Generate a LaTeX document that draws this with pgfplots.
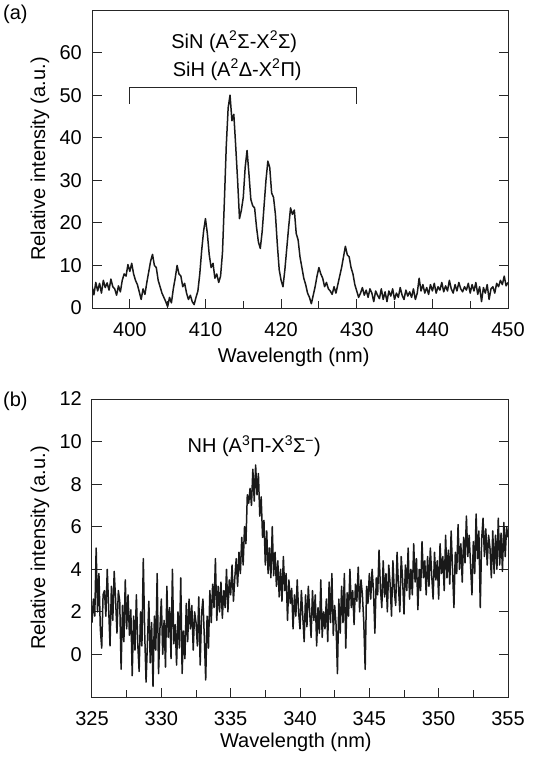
\documentclass[border=0pt]{standalone}
\usepackage{fontspec}
\setmainfont{Liberation Sans}
\usepackage{pgfplots}
\pgfplotsset{compat=1.18}

\pgfplotsset{
  spec/.style={
    scale only axis,
    width=416pt, height=298pt,
    axis line style={line width=1pt, black!85},
    xtick pos=bottom, ytick pos=both,
    tick align=inside,
    tick style={black!85, line width=1pt},
    major tick length=9.5pt, minor tick length=7pt,
    /pgf/number format/assume math mode=true,
    yticklabel style={anchor=east, inner sep=0pt, xshift=-10pt},
    xticklabel style={anchor=north, inner sep=0pt, yshift=-14pt},
    ylabel={Relative intensity (a.u.)},
    xlabel={Wavelength (nm)},
    ylabel style={at={(axis description cs:-0.125,0.5)}, anchor=center},
    clip=true,
  },
  specline/.style={black!90, line width=1.5pt, line join=round},
}

\begin{document}
\begin{tikzpicture}[font=\fontsize{20pt}{24pt}\selectfont]
\useasboundingbox (0,0) rectangle (534pt,-757pt);
\node[anchor=north west, inner sep=0pt] at (3pt,-5pt) {(a)};
\node[anchor=north west, inner sep=0pt] at (3pt,-392pt) {(b)};

% ---------- (a) SiN / SiH ----------
\begin{axis}[spec,
  at={(92pt,-308pt)}, anchor=south west,
  xmin=395, xmax=450, ymin=0, ymax=70,
  xtick={400,410,...,450}, minor xtick={405,415,...,445},
  ytick={0,10,...,60},
  xlabel style={at={(axis description cs:0.485,-0.182)}, anchor=base},
]
\addplot[specline] coordinates {
(395.00,5.2) (395.25,3.1) (395.50,6.0) (395.75,4.0) (396.00,5.8) (396.25,3.5)
(396.50,6.5) (396.75,4.8) (397.00,5.9) (397.25,4.2) (397.50,6.8) (397.75,5.0)
(398.00,4.5) (398.25,3.0) (398.50,5.2) (398.75,3.8) (399.00,6.5) (399.25,8.0)
(399.50,7.5) (399.75,10.2) (400.00,8.6) (400.25,10.5) (400.50,8.0) (400.75,6.5)
(401.00,5.5) (401.25,3.8) (401.50,2.0) (401.75,4.5) (402.00,3.2) (402.25,6.0)
(402.50,8.5) (402.75,11.0) (403.00,12.6) (403.25,10.0) (403.50,9.5) (403.75,6.5)
(404.00,5.0) (404.25,3.5) (404.50,2.5) (404.75,1.5) (405.00,0.3) (405.25,2.5)
(405.50,1.2) (405.75,4.5) (406.00,7.0) (406.25,10.0) (406.50,8.0) (406.75,7.5)
(407.00,5.0) (407.25,5.8) (407.50,3.5) (407.75,2.0) (408.00,3.0) (408.25,1.5)
(408.50,0.8) (408.75,2.5) (409.00,4.0) (409.25,8.0) (409.50,13.5) (409.75,18.0)
(410.00,21.0) (410.25,17.5) (410.50,12.5) (410.75,9.5) (411.00,10.5) (411.25,7.0)
(411.50,8.0) (411.75,6.0) (412.00,7.5) (412.25,13.0) (412.50,25.0) (412.75,38.0)
(413.00,47.0) (413.25,50.0) (413.50,44.0) (413.75,45.5) (414.00,38.0) (414.25,30.0)
(414.50,21.0) (414.75,23.0) (415.00,26.0) (415.25,33.0) (415.50,37.0) (415.75,31.5)
(416.00,25.5) (416.25,24.0) (416.50,23.5) (416.75,19.0) (417.00,15.5) (417.25,14.0)
(417.50,18.0) (417.75,24.0) (418.00,30.0) (418.25,34.5) (418.50,33.0) (418.75,27.0)
(419.00,26.0) (419.25,22.0) (419.50,15.0) (419.75,9.0) (420.00,6.5) (420.25,5.0)
(420.50,9.0) (420.75,14.0) (421.00,19.0) (421.25,23.5) (421.50,22.0) (421.75,23.0)
(422.00,17.5) (422.25,16.0) (422.50,12.0) (422.75,9.5) (423.00,7.0) (423.25,5.5)
(423.50,3.5) (423.75,2.5) (424.00,1.0) (424.25,3.0) (424.50,5.0) (424.75,7.5)
(425.00,9.5) (425.25,8.0) (425.50,7.0) (425.75,5.0) (426.00,6.0) (426.25,4.5)
(426.50,4.0) (426.75,3.2) (427.00,5.0) (427.25,3.5) (427.50,5.5) (427.75,7.5)
(428.00,9.5) (428.25,12.0) (428.50,14.5) (428.75,12.5) (429.00,12.0) (429.25,9.5)
(429.50,8.0) (429.75,5.5) (430.00,4.0) (430.25,2.5) (430.50,3.5) (430.75,4.8)
(431.00,3.0) (431.25,4.2) (431.50,2.5) (431.75,4.5) (432.00,3.5) (432.25,1.5)
(432.50,4.0) (432.75,3.0) (433.00,2.2) (433.25,4.5) (433.50,2.0) (433.75,3.8)
(434.00,1.5) (434.25,4.0) (434.50,2.8) (434.75,4.5) (435.00,2.0) (435.25,3.5)
(435.50,2.5) (435.75,4.8) (436.00,3.0) (436.25,2.0) (436.50,4.2) (436.75,2.8)
(437.00,3.8) (437.25,2.5) (437.50,4.5) (437.75,2.0) (438.00,3.5) (438.25,7.0)
(438.50,4.0) (438.75,5.5) (439.00,3.5) (439.25,4.8) (439.50,3.2) (439.75,5.5)
(440.00,4.0) (440.25,5.8) (440.50,3.5) (440.75,5.0) (441.00,4.2) (441.25,6.0)
(441.50,3.8) (441.75,5.2) (442.00,4.0) (442.25,6.5) (442.50,4.5) (442.75,3.5)
(443.00,5.5) (443.25,4.0) (443.50,6.0) (443.75,4.5) (444.00,3.8) (444.25,5.0)
(444.50,4.2) (444.75,5.8) (445.00,3.5) (445.25,5.5) (445.50,4.0) (445.75,6.0)
(446.00,3.2) (446.25,5.0) (446.50,1.5) (446.75,4.8) (447.00,3.5) (447.25,5.5)
(447.50,2.0) (447.75,4.5) (448.00,5.0) (448.25,3.5) (448.50,5.8) (448.75,5.0)
(449.00,6.5) (449.25,5.5) (449.50,7.5) (449.75,5.2) (450.00,6.0)
};
\draw[black!85, line width=1pt] (axis cs:400,48) -- (axis cs:400,51.8) -- (axis cs:430,51.8) -- (axis cs:430,48);
\node[anchor=base] at (axis cs:413.8,61) {SiN (A\textsuperscript{2}Σ-X\textsuperscript{2}Σ)};
\node[anchor=base] at (axis cs:414.2,54.4) {SiH (A\textsuperscript{2}Δ-X\textsuperscript{2}Π)};
\end{axis}

% ---------- (b) NH ----------
\begin{axis}[spec,
  at={(92pt,-697pt)}, anchor=south west,
  xmin=325, xmax=355, ymin=-2, ymax=12,
  xtick={325,330,...,355}, minor xtick={327.5,332.5,...,352.5},
  ytick={0,2,...,12},
  xlabel style={at={(axis description cs:0.49,-0.168)}, anchor=base},
]
\addplot[specline] coordinates {
(325.0,1.5) (325.1,2.6) (325.2,1.8) (325.3,5.0) (325.4,2.0) (325.5,3.8) (325.6,1.2)
(325.7,0.3) (325.8,2.8) (325.9,3.0) (326.0,1.8) (326.1,4.0) (326.2,2.2) (326.3,0.4)
(326.4,3.2) (326.5,1.6) (326.6,3.9) (326.7,2.6) (326.8,1.0) (326.9,3.0) (327.0,2.5)
(327.1,-0.7) (327.2,2.3) (327.3,0.6) (327.4,3.5) (327.5,1.2) (327.6,2.8) (327.7,0.9)
(327.8,2.1) (327.9,-1.0) (328.0,1.8) (328.1,0.2) (328.2,2.8) (328.3,0.5) (328.4,-0.8)
(328.5,2.0) (328.6,0.4) (328.7,4.5) (328.8,1.0) (328.9,-1.3) (329.0,0.6) (329.1,2.5)
(329.2,-0.4) (329.3,1.5) (329.4,-1.5) (329.5,1.8) (329.6,0.2) (329.7,3.8) (329.8,-0.9)
(329.9,1.2) (330.0,2.6) (330.1,0.0) (330.2,1.6) (330.3,-0.6) (330.4,3.2) (330.5,0.8)
(330.6,2.2) (330.7,-0.2) (330.8,4.0) (330.9,0.5) (331.0,1.4) (331.1,-0.5) (331.2,2.0)
(331.3,0.3) (331.4,3.6) (331.5,-0.9) (331.6,1.1) (331.7,-0.2) (331.8,2.4) (331.9,0.6)
(332.0,2.6) (332.1,1.2) (332.2,2.3) (332.3,0.2) (332.4,2.0) (332.5,1.5) (332.6,0.4)
(332.7,2.7) (332.8,-0.5) (332.9,1.9) (333.0,2.6) (333.1,0.8) (333.2,-1.2) (333.3,1.8)
(333.4,0.3) (333.5,3.0) (333.6,1.5) (333.7,3.3) (333.8,2.2) (333.9,4.5) (334.0,1.6)
(334.1,3.2) (334.2,2.0) (334.3,3.4) (334.4,1.7) (334.5,3.0) (334.6,2.2) (334.7,4.0)
(334.8,2.0) (334.9,3.5) (335.0,2.8) (335.1,4.2) (335.2,2.5) (335.3,3.6) (335.4,4.5)
(335.5,3.2) (335.6,4.8) (335.7,3.8) (335.8,5.5) (335.9,4.2) (336.0,6.0) (336.1,5.2)
(336.2,7.5) (336.3,7.1) (336.4,7.8) (336.5,7.0) (336.6,8.7) (336.7,7.2) (336.8,8.9)
(336.9,7.5) (337.0,8.5) (337.1,6.5) (337.2,7.4) (337.3,5.5) (337.4,6.3) (337.5,4.2)
(337.6,5.8) (337.7,3.8) (337.8,5.0) (337.9,3.6) (338.0,6.0) (338.1,3.7) (338.2,4.8)
(338.3,3.2) (338.4,4.4) (338.5,2.7) (338.6,4.0) (338.7,2.5) (338.8,4.6) (338.9,3.0)
(339.0,3.8) (339.1,1.6) (339.2,3.5) (339.3,2.4) (339.4,3.1) (339.5,1.2) (339.6,2.8)
(339.7,1.8) (339.8,3.5) (339.9,2.0) (340.0,1.2) (340.1,3.0) (340.2,1.8) (340.3,0.6)
(340.4,2.8) (340.5,1.3) (340.6,3.2) (340.7,2.0) (340.8,0.8) (340.9,3.0) (341.0,1.6)
(341.1,2.8) (341.2,0.4) (341.3,2.2) (341.4,1.0) (341.5,3.5) (341.6,0.8) (341.7,2.0)
(341.8,1.2) (341.9,2.6) (342.0,0.6) (342.1,3.4) (342.2,1.5) (342.3,3.8) (342.4,0.9)
(342.5,2.3) (342.6,1.4) (342.7,-0.9) (342.8,2.6) (342.9,1.0) (343.0,3.2) (343.1,1.5)
(343.2,3.8) (343.3,0.3) (343.4,2.9) (343.5,1.8) (343.6,4.0) (343.7,2.2) (343.8,3.0)
(343.9,1.4) (344.0,3.3) (344.1,2.5) (344.2,4.1) (344.3,2.0) (344.4,3.5) (344.5,2.8)
(344.6,1.5) (344.7,-0.7) (344.8,3.2) (344.9,2.4) (345.0,3.8) (345.1,2.6) (345.2,4.0)
(345.3,3.0) (345.4,1.0) (345.5,3.6) (345.6,2.8) (345.7,4.9) (345.8,3.1) (345.9,2.2)
(346.0,4.4) (346.1,2.7) (346.2,3.8) (346.3,2.0) (346.4,4.2) (346.5,3.3) (346.6,1.8)
(346.7,4.4) (346.8,3.0) (346.9,2.3) (347.0,4.8) (347.1,3.2) (347.2,2.0) (347.3,4.6)
(347.4,3.5) (347.5,1.9) (347.6,4.2) (347.7,3.0) (347.8,5.0) (347.9,2.6) (348.0,4.0)
(348.1,2.8) (348.2,5.2) (348.3,3.4) (348.4,4.5) (348.5,2.1) (348.6,4.0) (348.7,3.0)
(348.8,5.3) (348.9,3.6) (349.0,4.4) (349.1,2.8) (349.2,4.6) (349.3,3.2) (349.4,5.0)
(349.5,3.7) (349.6,2.6) (349.7,4.8) (349.8,3.5) (349.9,4.4) (350.0,2.6) (350.1,5.2)
(350.2,3.8) (350.3,4.6) (350.4,3.0) (350.5,5.6) (350.6,3.6) (350.7,4.9) (350.8,3.3)
(350.9,5.8) (351.0,4.0) (351.1,2.2) (351.2,4.8) (351.3,3.8) (351.4,6.1) (351.5,4.0)
(351.6,5.2) (351.7,3.4) (351.8,5.5) (351.9,4.3) (352.0,6.5) (352.1,4.6) (352.2,5.6)
(352.3,4.2) (352.4,2.8) (352.5,5.3) (352.6,3.8) (352.7,6.6) (352.8,4.5) (352.9,5.8)
(353.0,2.2) (353.1,5.4) (353.2,6.4) (353.3,4.6) (353.4,5.9) (353.5,4.2) (353.6,5.6)
(353.7,5.0) (353.8,3.6) (353.9,5.8) (354.0,3.8) (354.1,5.6) (354.2,4.0) (354.3,6.4)
(354.4,4.2) (354.5,5.7) (354.6,3.9) (354.7,6.2) (354.8,4.6) (354.9,6.0) (355.0,5.5)
};
\node[anchor=base] at (axis cs:336.7,9.47) {NH (A\textsuperscript{3}Π-X\textsuperscript{3}Σ\textsuperscript{−})};
\end{axis}
\end{tikzpicture}
\end{document}
